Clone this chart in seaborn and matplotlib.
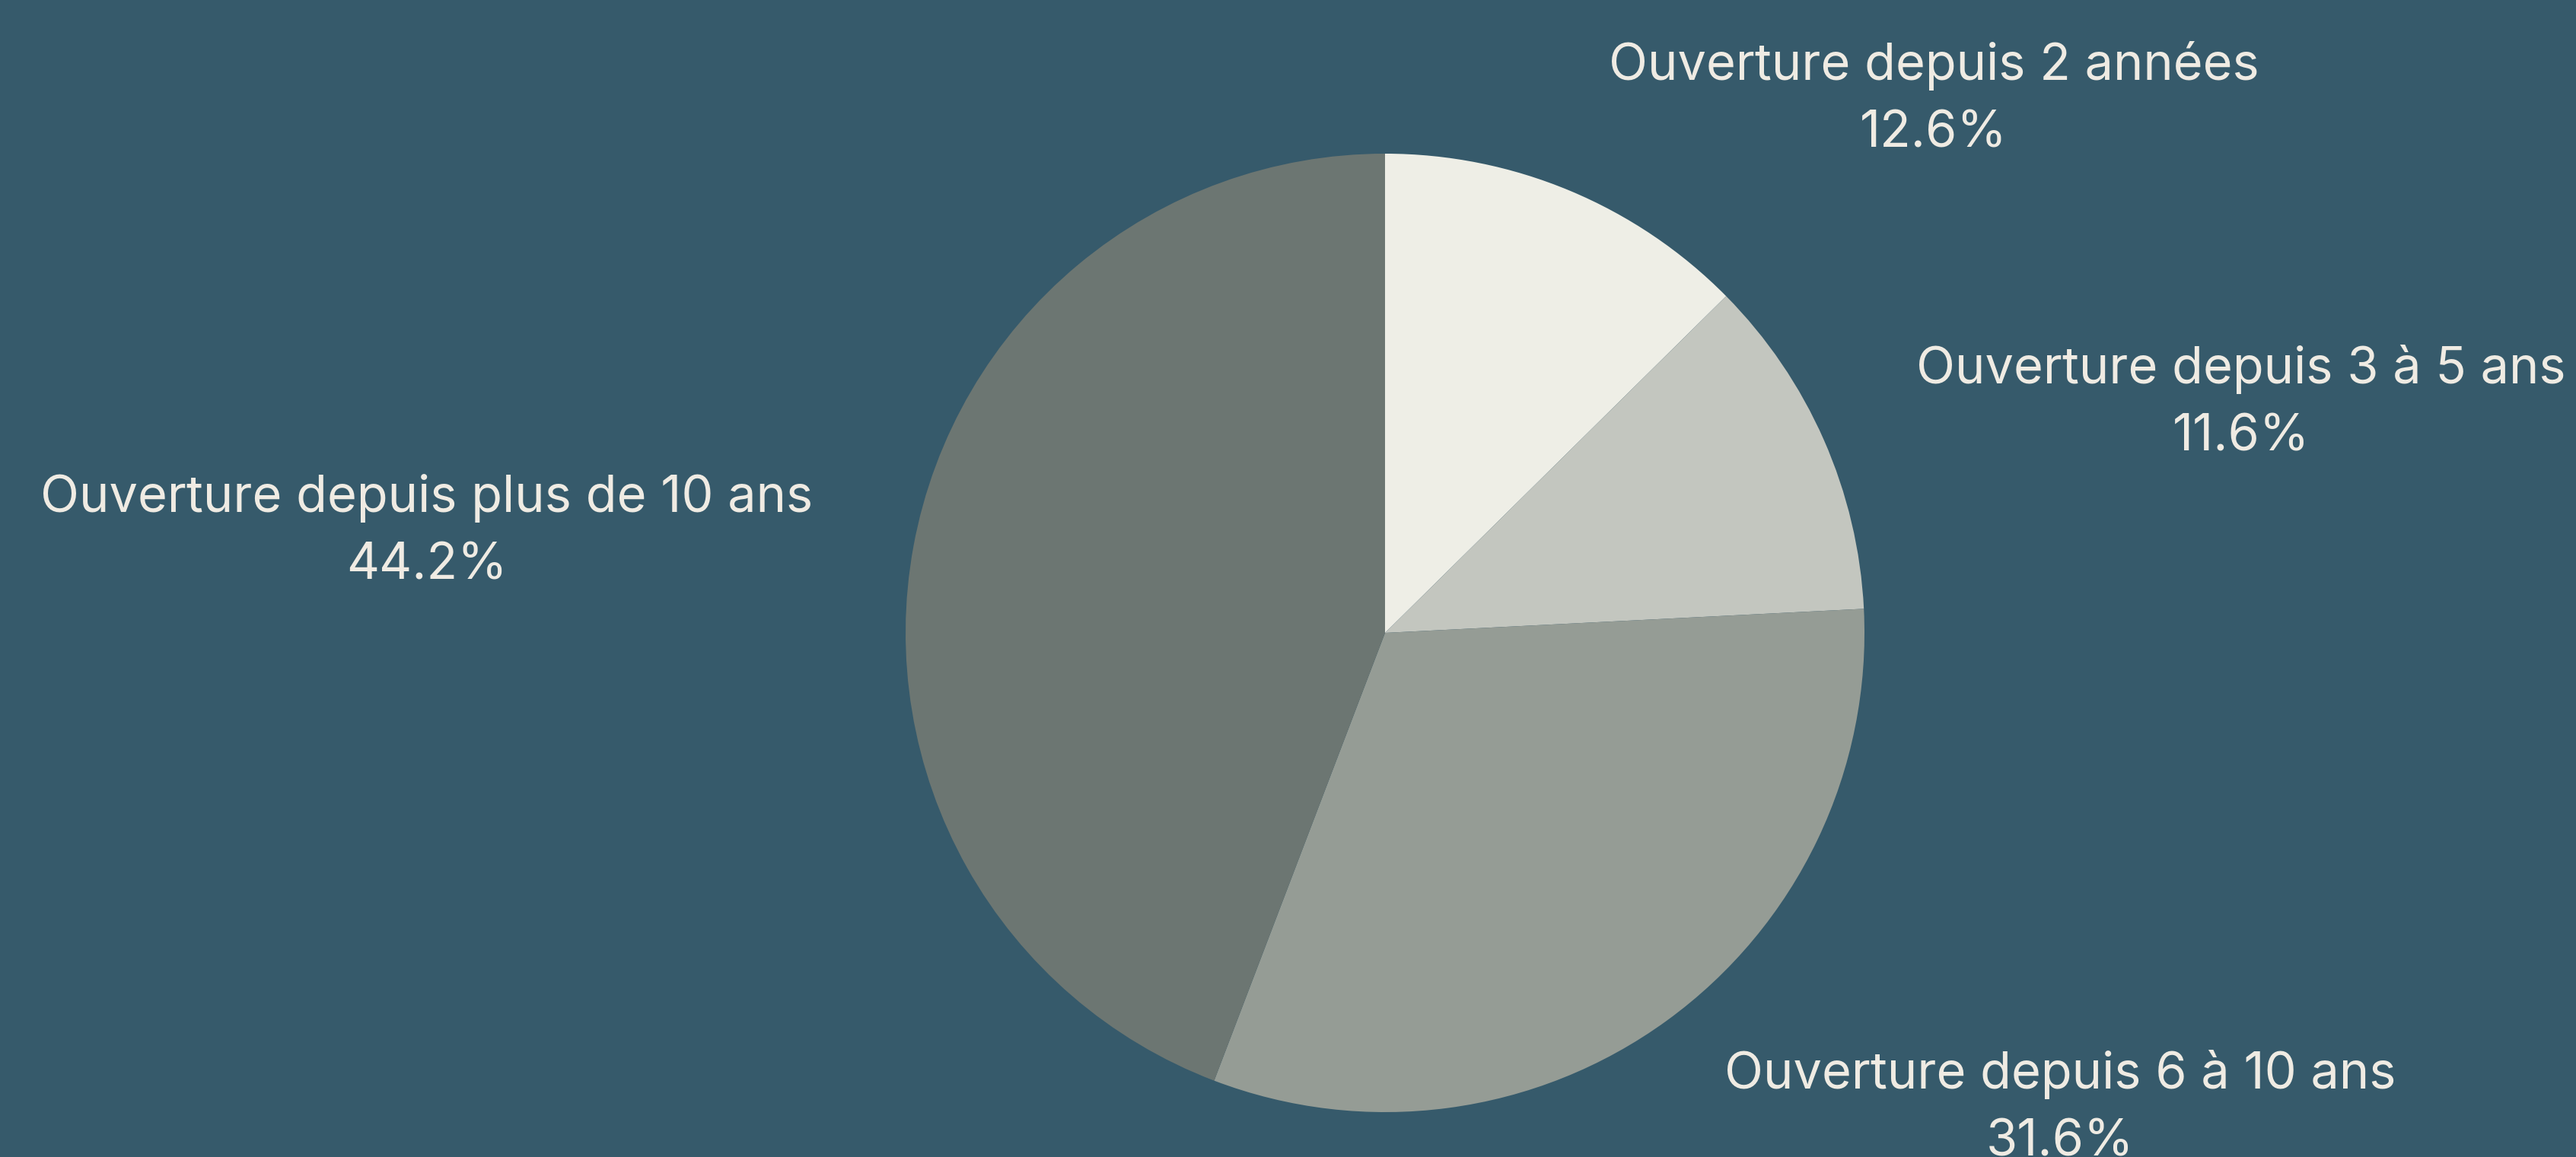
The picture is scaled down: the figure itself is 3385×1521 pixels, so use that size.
import matplotlib
matplotlib.use("Agg")
import matplotlib.pyplot as plt
import seaborn as sns

categories = [
    "Ouverture depuis 2 années",
    "Ouverture depuis 3 à 5 ans",
    "Ouverture depuis 6 à 10 ans",
    "Ouverture depuis plus de 10 ans",
]
shares = [12.6, 11.6, 31.6, 44.2]
slice_colors = ["#EEEEE6", "#C3C6BF", "#959C95", "#6C7672"]

BG = "#365A6B"
TXT = "#EFEBE3"
W, H = 3385, 1521

sns.set_theme(style="white")
plt.rcParams["font.family"] = ["Inter", "DejaVu Sans"]

fig = plt.figure(figsize=(W / 100, H / 100), dpi=100, facecolor=BG)

# pie placement (pixels): center and radius
cx, cy, r = 1820, 832, 630
ax = fig.add_axes([(cx - r) / W, (H - cy - r) / H, 2 * r / W, 2 * r / H])
ax.set_facecolor(BG)
ax.pie(shares, colors=slice_colors, startangle=90, counterclock=False,
       radius=1.0, wedgeprops=dict(linewidth=0))
ax.set_xlim(-1, 1)
ax.set_ylim(-1, 1)
ax.set_aspect("equal")
ax.axis("off")

# label block centres (pixels)
label_pos = [(2541, 131), (2945, 530), (2707, 1457), (561, 699)]
for cat, val, (lx, ly) in zip(categories, shares, label_pos):
    fig.text(lx / W, 1 - ly / H, f"{cat}\n{val:.1f}%", ha="center", va="center",
             color=TXT, fontsize=48, linespacing=1.52, multialignment="center")

fig.savefig("out.png", dpi=100, facecolor=BG)
